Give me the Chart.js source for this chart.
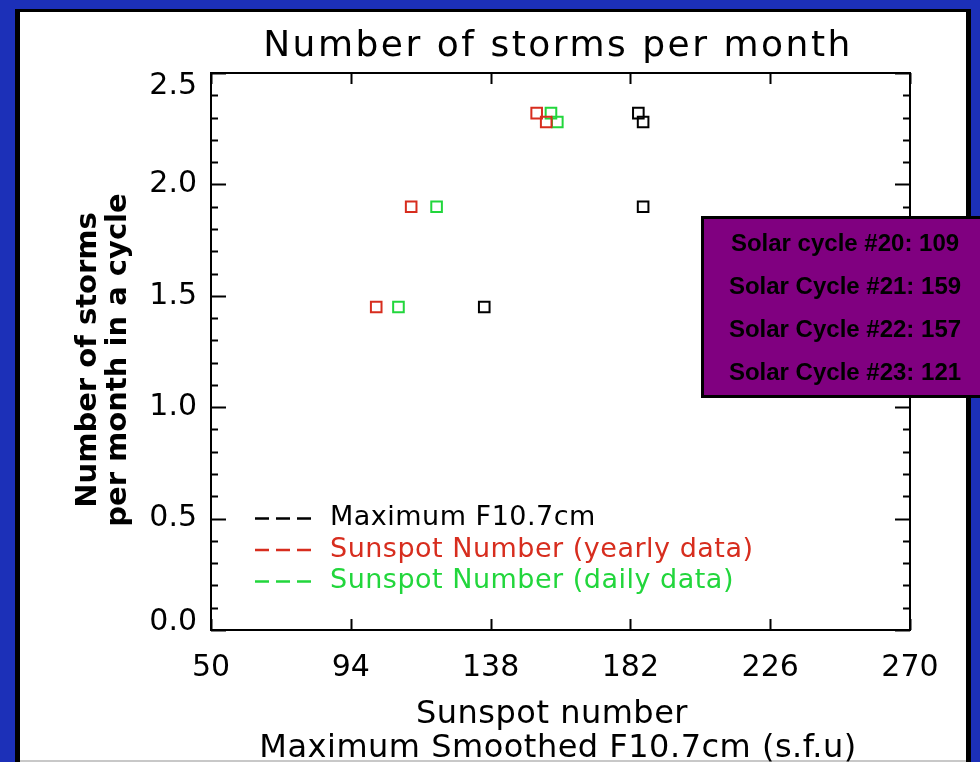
<!DOCTYPE html>
<html>
<head>
<meta charset="utf-8">
<title>Number of storms per month</title>
<script src="https://cdn.jsdelivr.net/npm/chart.js@4.4.1/dist/chart.umd.min.js"></script>
<style>
  html, body { margin: 0; padding: 0; background: #1c30b8; }
  #wrap { position: relative; width: 980px; height: 762px; }
  canvas { display: block; }
</style>
</head>
<body>
<div id="wrap"><canvas id="chart" width="980" height="762"></canvas></div>
<script>
// Solar cycles 20-23
const cycles = ['20', '21', '22', '23'];
const cycleWord = ['cycle', 'Cycle', 'Cycle', 'Cycle'];
// storms per month in each cycle (y)
const stormsPerMonth = [1.45, 2.28, 2.32, 1.90];
// x values for each series
const maxF107 = [136, 186, 184.5, 186];
const sunspotYearly = [102, 155.5, 152.5, 113];
const sunspotDaily = [109, 159, 157, 121];
// axis ticks
const xTicks = [50, 94, 138, 182, 226, 270];
const yTicks = [0, 0.5, 1.0, 1.5, 2.0, 2.5];
const yTickLabels = ['0.0', '0.5', '1.0', '1.5', '2.0', '2.5'];
const yMinorStep = 0.1;

const seriesNames = ['Maximum F10.7cm', 'Sunspot Number (yearly data)', 'Sunspot Number (daily data)'];
const seriesColors = ['#000000', '#d72d1e', '#22d63c'];
const seriesX = [maxF107, sunspotYearly, sunspotDaily];

const FONT = 'DejaVu Sans';

const points = xs => xs.map((x, i) => ({ x: x, y: stormsPerMonth[i] }));

// page panel: blue surround, black rim, white sheet
const panelPlugin = {
  id: 'panel',
  beforeDraw(chart) {
    const c = chart.ctx;
    c.save();
    c.fillStyle = '#1c30b8';
    c.fillRect(0, 0, 980, 762);
    c.fillStyle = '#000';
    c.fillRect(15, 9, 956, 753);
    c.fillStyle = '#fff';
    c.fillRect(20, 12, 946, 749);
    c.fillStyle = '#c8c8c8';
    c.fillRect(20, 760, 946, 2);
    c.restore();
  }
};

// closed plot frame with inward major / minor ticks
const framePlugin = {
  id: 'frame',
  beforeDatasetsDraw(chart) {
    const c = chart.ctx;
    const a = chart.chartArea;
    const xs = chart.scales.x, ys = chart.scales.y;
    c.save();
    c.strokeStyle = '#000';
    c.lineWidth = 2;
    c.strokeRect(a.left, a.top, a.right - a.left, a.bottom - a.top);
    c.beginPath();
    xTicks.forEach(v => {
      const px = Math.round(xs.getPixelForValue(v)) + 0.5;
      c.moveTo(px, a.bottom); c.lineTo(px, a.bottom - 11);
      c.moveTo(px, a.top); c.lineTo(px, a.top + 11);
    });
    const n = Math.round((ys.max - ys.min) / yMinorStep);
    for (let i = 0; i <= n; i++) {
      const v = ys.min + i * yMinorStep;
      const major = yTicks.some(t => Math.abs(t - v) < 1e-6);
      const len = major ? 15 : 7;
      const py = Math.round(ys.getPixelForValue(v)) + 0.5;
      c.moveTo(a.left, py); c.lineTo(a.left + len, py);
      c.moveTo(a.right, py); c.lineTo(a.right - len, py);
    }
    c.stroke();
    c.restore();
  }
};

// titles, legend and the solar cycle panel
const textPlugin = {
  id: 'texts',
  afterDraw(chart) {
    const c = chart.ctx;
    c.save();
    c.fillStyle = '#000';
    c.textAlign = 'center';
    c.textBaseline = 'alphabetic';

    // main title
    c.font = '36px "' + FONT + '"';
    c.letterSpacing = '2.5px';
    c.fillText('Number of storms per month', 558, 56);

    // x axis title
    c.font = '32px "' + FONT + '"';
    c.letterSpacing = '0.5px';
    c.fillText('Sunspot number', 552, 723);
    c.fillText('Maximum Smoothed F10.7cm (s.f.u)', 558, 757);

    // y axis title
    c.save();
    c.font = 'bold 29px "' + FONT + '"';
    c.letterSpacing = '0px';
    c.translate(96, 360);
    c.rotate(-Math.PI / 2);
    c.fillText('Number of storms', 0, 0);
    c.translate(0, 30);
    c.fillText('per month in a cycle', 0, 0);
    c.restore();

    // legend
    c.letterSpacing = '0.5px';
    c.font = '27px "' + FONT + '"';
    c.textAlign = 'left';
    c.textBaseline = 'middle';
    chart.data.datasets.forEach((ds, i) => {
      const y = 518 + i * 31.5;
      c.strokeStyle = ds.borderColor;
      c.lineWidth = 2.5;
      c.setLineDash([14, 7]);
      c.beginPath();
      c.moveTo(255, y + 0.5);
      c.lineTo(311, y + 0.5);
      c.stroke();
      c.setLineDash([]);
      c.fillStyle = ds.borderColor;
      c.fillText(ds.label, 330, y);
    });

    // solar cycle panel
    c.letterSpacing = '0px';
    c.fillStyle = '#800080';
    c.fillRect(702, 217, 290, 180);
    c.strokeStyle = '#000';
    c.lineWidth = 3;
    c.strokeRect(702.5, 217.5, 290, 179);
    c.fillStyle = '#000';
    c.font = 'bold 24px "Liberation Sans"';
    c.textAlign = 'center';
    c.textBaseline = 'middle';
    cycles.forEach((cy, i) => {
      c.fillText('Solar ' + cycleWord[i] + ' #' + cy + ': ' + sunspotDaily[i], 845, 244 + i * 43);
    });
    c.restore();
  }
};

new Chart(document.getElementById('chart'), {
  type: 'scatter',
  data: {
    datasets: seriesNames.map((name, i) => ({
      label: name,
      data: points(seriesX[i]),
      borderColor: seriesColors[i],
      backgroundColor: 'rgba(0,0,0,0)',
      pointStyle: 'rect',
      pointRadius: 7.5,
      pointHoverRadius: 7.5,
      pointBorderWidth: 2,
      showLine: false
    }))
  },
  options: {
    responsive: false,
    animation: false,
    events: [],
    layout: { padding: { left: 0, right: 70, top: 73, bottom: 0 } },
    plugins: {
      legend: { display: false },
      title: { display: false },
      tooltip: { enabled: false }
    },
    scales: {
      x: {
        type: 'linear',
        min: xTicks[0],
        max: xTicks[xTicks.length - 1],
        afterBuildTicks: s => { s.ticks = xTicks.map(v => ({ value: v })); },
        afterFit: s => { s.height = 132; },
        grid: { display: false, drawTicks: false },
        border: { display: false },
        ticks: {
          autoSkip: false,
          maxRotation: 0,
          padding: 20,
          color: '#000',
          font: { family: FONT, size: 30 },
          callback: v => String(v)
        }
      },
      y: {
        type: 'linear',
        min: yTicks[0],
        max: yTicks[yTicks.length - 1],
        afterBuildTicks: s => { s.ticks = yTicks.map(v => ({ value: v })); },
        afterFit: s => { s.width = 211; },
        grid: { display: false, drawTicks: false },
        border: { display: false },
        ticks: {
          autoSkip: false,
          padding: 14,
          color: '#000',
          font: ctx => {
            const v = ctx.tick ? ctx.tick.value : null;
            let lh = 1.2;
            if (v === yTicks[yTicks.length - 1]) lh = 26 / 30;
            if (v === yTicks[0]) lh = 16 / 30;
            return { family: FONT, size: 30, lineHeight: lh };
          },
          callback: (v, i) => {
            const label = yTickLabels[i];
            if (i === yTicks.length - 1) return ['', label];
            if (i === 0) return [label, ''];
            return label;
          }
        }
      }
    }
  },
  plugins: [panelPlugin, framePlugin, textPlugin]
});
</script>
</body>
</html>
